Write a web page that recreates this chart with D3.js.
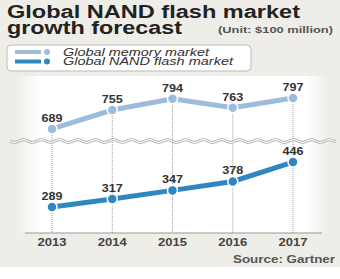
<!DOCTYPE html>
<html lang="en">
<head>
<meta charset="utf-8">
<title>NAND flash forecast</title>
<script src="https://cdn.jsdelivr.net/npm/d3@7"></script>
<style>
  body { margin: 0; background: #fff; }
  text { font-family: "Liberation Sans", Arial, sans-serif; }
</style>
</head>
<body>
<script>
// data
var years = ["2013", "2014", "2015", "2016", "2017"];
var memory = [689, 755, 794, 763, 797];
var nand = [289, 317, 347, 378, 446];
var seriesNames = ["Global memory market", "Global NAND flash market"];

var w = 340, h = 279;
var memColor = "#9dbcdc", nandColor = "#2f86c0";

var svg = d3.select("body").append("svg")
  .attr("width", w)
  .attr("height", h);

// background
svg.append("rect").attr("width", w).attr("height", 267).attr("fill", "#eeede8");

var defs = svg.append("defs");
var grad = defs.append("linearGradient").attr("id", "plotbg");
grad.append("stop").attr("offset", "0%").attr("stop-color", "#fff").attr("stop-opacity", 0);
grad.append("stop").attr("offset", "8%").attr("stop-color", "#fff").attr("stop-opacity", 1);
grad.append("stop").attr("offset", "92%").attr("stop-color", "#fff").attr("stop-opacity", 1);
grad.append("stop").attr("offset", "100%").attr("stop-color", "#fff").attr("stop-opacity", 0);
svg.append("rect").attr("x", 15).attr("y", 76).attr("width", 315).attr("height", 157)
  .attr("fill", "url(#plotbg)");

// scales (broken y axis: same px per unit on both parts)
var x = d3.scalePoint().domain(years).range([52, 293]);
var yHigh = d3.scaleLinear().domain([640, 820]).range([143, 91.4]);
var yLow = d3.scaleLinear().domain([200, 460]).range([232.5, 158]);

// title
svg.append("text").attr("x", 7).attr("y", 17.5)
  .attr("font-size", 17.5).attr("font-weight", 900).attr("fill", "#222")
  .attr("textLength", 293).attr("lengthAdjust", "spacingAndGlyphs")
  .text("Global NAND flash market");
svg.append("text").attr("x", 7).attr("y", 33.5)
  .attr("font-size", 17.5).attr("font-weight", 900).attr("fill", "#222")
  .attr("textLength", 175).attr("lengthAdjust", "spacingAndGlyphs")
  .text("growth forecast");
svg.append("text").attr("x", 333).attr("y", 33).attr("text-anchor", "end")
  .attr("font-size", 9.5).attr("font-weight", "bold").attr("fill", "#555")
  .attr("textLength", 115).attr("lengthAdjust", "spacingAndGlyphs")
  .text("(Unit: $100 million)");

// legend
svg.append("rect").attr("x", 7).attr("y", 45).attr("width", 244).attr("height", 26)
  .attr("rx", 4).attr("fill", "#fff").attr("stroke", "#bbb");
var legW = [146, 170];
var leg = svg.selectAll(".leg").data(seriesNames).enter().append("g")
  .attr("transform", function(d, i) { return "translate(0," + (52 + i * 9.5) + ")"; });
leg.append("line").attr("x1", 15).attr("x2", 41).attr("y1", 0).attr("y2", 0)
  .attr("stroke-width", 4)
  .attr("stroke", function(d, i) { return i ? nandColor : memColor; });
leg.append("circle").attr("cx", 47).attr("cy", 0).attr("r", 3)
  .attr("fill", function(d, i) { return i ? nandColor : memColor; });
leg.append("text").attr("x", 63).attr("y", 3.5)
  .attr("font-size", 10).attr("font-style", "italic").attr("fill", "#333")
  .attr("textLength", function(d, i) { return legW[i]; })
  .attr("lengthAdjust", "spacingAndGlyphs")
  .text(function(d) { return d; });

// dashed verticals
svg.selectAll(".vline").data(years).enter().append("line")
  .attr("x1", function(d) { return x(d); })
  .attr("x2", function(d) { return x(d); })
  .attr("y1", function(d, i) { return yHigh(memory[i]); })
  .attr("y2", 233)
  .attr("stroke", "#999").attr("stroke-width", 1).attr("stroke-dasharray", "1,1");

// axis line
svg.append("line").attr("x1", 25).attr("x2", 322).attr("y1", 233).attr("y2", 233)
  .attr("stroke", "#999").attr("stroke-width", 1);

// wavy break
var wave = [];
for (var px = 10; px <= 336; px += 1) {
  wave.push([px, 141 + 1.3 * Math.sin((px - 10) / 9 * Math.PI)]);
}
var waveLine = d3.line();
svg.append("path").attr("d", waveLine(wave)).attr("fill", "none")
  .attr("stroke", "#aaa").attr("stroke-width", 3);
svg.append("path").attr("d", waveLine(wave)).attr("fill", "none")
  .attr("stroke", "#fff").attr("stroke-width", 1.2);

// series
function drawSeries(vals, y, color) {
  var line = d3.line()
    .x(function(d, i) { return x(years[i]); })
    .y(function(d) { return y(d); });
  svg.append("path").datum(vals).attr("d", line)
    .attr("fill", "none").attr("stroke", color).attr("stroke-width", 5);
  svg.selectAll(null).data(vals).enter().append("circle")
    .attr("cx", function(d, i) { return x(years[i]); })
    .attr("cy", function(d) { return y(d); })
    .attr("r", 5)
    .attr("fill", color).attr("stroke", "#fff").attr("stroke-width", 1.5);
  svg.selectAll(null).data(vals).enter().append("text")
    .attr("x", function(d, i) { return x(years[i]); })
    .attr("y", function(d) { return y(d) - 7; })
    .attr("text-anchor", "middle")
    .attr("font-size", 10).attr("font-weight", "bold").attr("fill", "#333")
    .attr("textLength", 21).attr("lengthAdjust", "spacingAndGlyphs")
    .text(function(d) { return d; });
}
drawSeries(memory, yHigh, memColor);
drawSeries(nand, yLow, nandColor);

// x labels
svg.selectAll(".xl").data(years).enter().append("text")
  .attr("x", function(d) { return x(d); })
  .attr("y", 245.5)
  .attr("text-anchor", "middle")
  .attr("font-size", 10.5).attr("font-weight", "bold").attr("fill", "#444")
  .attr("textLength", 29).attr("lengthAdjust", "spacingAndGlyphs")
  .text(function(d) { return d; });

// source
svg.append("text").attr("x", 335).attr("y", 263).attr("text-anchor", "end")
  .attr("font-size", 10).attr("font-weight", "bold").attr("fill", "#555")
  .attr("textLength", 102).attr("lengthAdjust", "spacingAndGlyphs")
  .text("Source: Gartner");
</script>
</body>
</html>
